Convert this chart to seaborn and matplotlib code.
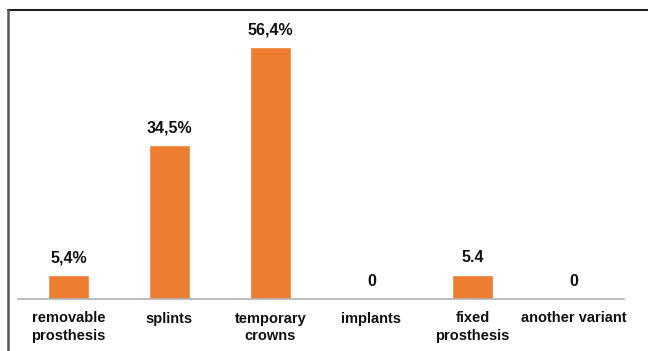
import matplotlib
matplotlib.use("Agg")
import matplotlib.pyplot as plt
from matplotlib.lines import Line2D
import seaborn as sns
import pandas as pd

categories = ["removable\nprosthesis", "splints", "temporary\ncrowns",
              "implants", "fixed\nprosthesis", "another variant"]
values = [5.4, 34.5, 56.4, 0, 5.4, 0]
value_labels = ["5,4%", "34,5%", "56,4%", "0", "5.4", "0"]

sns.set_theme(style="white")
plt.rcParams["font.family"] = ["Liberation Sans", "DejaVu Sans"]

df = pd.DataFrame({"category": categories, "value": values})

fig = plt.figure(figsize=(6.48, 3.51), dpi=100)
ax = fig.add_axes([18 / 648, 52 / 351, 606 / 648, 289 / 351])

sns.barplot(data=df, x="category", y="value", color="#ED7D31",
            width=0.41, saturation=1, ax=ax)

ax.set_ylim(0, 64.7)
ax.set_xlim(-0.5, len(categories) - 0.5)
ax.set_xlabel("")
ax.set_ylabel("")
ax.set_yticks([])
ax.tick_params(axis="x", length=0, pad=9)
for lbl in ax.get_xticklabels():
    lbl.set_fontweight("bold")
    lbl.set_fontsize(10.5)
    lbl.set_color("#111111")
    lbl.set_linespacing(1.3)

for side in ["top", "right", "left"]:
    ax.spines[side].set_visible(False)
ax.spines["bottom"].set_color("#b0b0b0")
ax.spines["bottom"].set_linewidth(1.2)

ax.bar_label(ax.containers[0], labels=value_labels, padding=7,
             fontsize=11.5, fontweight="bold", color="#111111")

# outer frame lines along the top and left edges
fig.add_artist(Line2D([8 / 648, 1], [1 - 10 / 351, 1 - 10 / 351],
                      transform=fig.transFigure, color="#222222", lw=1.5))
fig.add_artist(Line2D([8 / 648, 8 / 648], [0, 1 - 10 / 351],
                      transform=fig.transFigure, color="#555555", lw=1.8))

fig.savefig("out.png", dpi=100)
